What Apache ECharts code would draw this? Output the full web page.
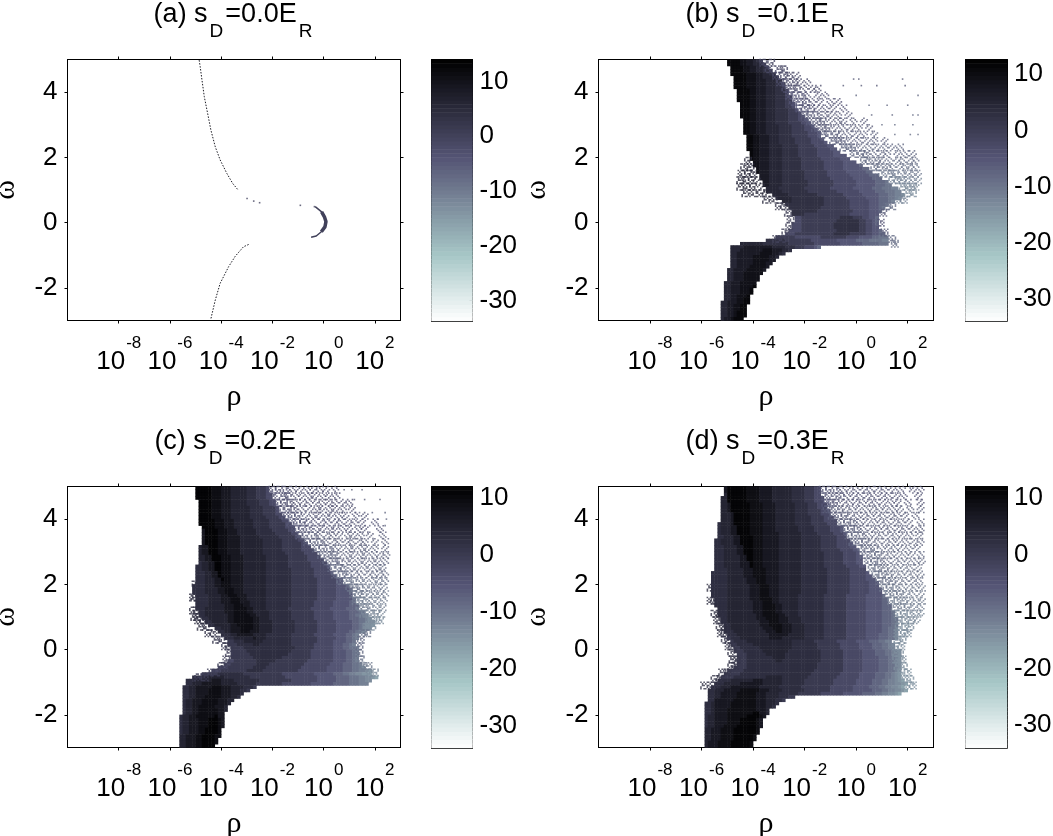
<!DOCTYPE html>
<html>
<head>
<meta charset="utf-8">
<title>s_D panels</title>
<script src="https://cdn.jsdelivr.net/npm/echarts@6/dist/echarts.min.js"></script>
<style>
  html, body { margin: 0; background: #fff; }
  #chart { width: 1053px; height: 836px; }
</style>
</head>
<body>
<div id="chart"></div>
<script>
// tick labels
const rhoTicks = [-8, -6, -4, -2, 0, 2]
const omegaTicks = [-2, 0, 2, 4]
const barTicks = [10, 0, -10, -20, -30]

// grid of the solid part: 1/8 decade by 0.1 in omega, rows from omega=5 downwards
const colCount = 104
const rowCount = 80
const rhoCols = Array.from({ length: colCount }, (_, i) => String(-10 + 0.0625 + i * 0.125))
const omegaRows = Array.from({ length: rowCount }, (_, i) => String(-3 + 0.05 + i * 0.1))

// letters used in the rows, value of each
const levels = { a: 11, b: 9, c: 7, d: 4.5, e: 2.5, f: 0, g: -3, h: -5.5, i: -8, j: -10, k: -12, l: -13.5, m: -15, n: -17 }

// each row: first column, then runs of level+length
const cellsB = [
  '40 a4 b2 c2 d1 e1 f1', '40 a4 b2 c2 d2 e1 f1', '41 a4 b2 c2 d2 e1 f1', '41 a4 b2 c2 d2 e2 f1', '41 a5 b3 c2 d2 e2',
  '42 a4 b3 c2 d3 e2', '42 a4 b3 c3 d3 e2', '42 a4 b3 c3 d3 e2 f1', '42 a4 b3 c3 d3 e2 f1', '43 a4 b2 c3 d3 e3 f1',
  '43 a4 b2 c3 d3 e3 f1', '43 a4 b2 c3 d3 e3 f2', '43 a4 b2 c3 d3 e3 f2', '44 a3 b2 c3 d3 e3 f2 g1', '44 a3 b2 c3 d3 e3 f2 g1',
  '44 a3 b2 c3 d3 e4 f2 g1', '44 a3 b2 c3 d3 e4 f3 g1', '44 a3 b2 c3 d3 e4 f3 g2', '45 a2 b2 c3 d3 e4 f3 g2 h1', '45 a2 b2 c3 d3 e4 f4 g2 h1',
  '45 a2 b2 c3 d4 e4 f4 g2 h1', '45 a2 b2 c3 d4 e4 f4 g3 h1', '45 a2 b2 c3 d4 e4 f5 g3 h1', '46 a2 b2 c3 d3 e4 f5 g3 h1', '46 a2 b2 c3 d3 e5 f5 g3 h1',
  '46 a2 b2 c3 d3 e5 f5 g4 h1', '46 a2 b2 c3 d4 e5 f5 g4 h2', '46 a2 b2 c3 d4 e5 f6 g4 h2', '47 a1 b2 c3 d4 e5 f6 g5 h2', '47 a1 b2 c3 d4 e5 f6 g5 h4',
  '47 a1 b2 c3 d4 e6 f6 g6 h3', '48 b2 c3 d4 e6 f7 g6 h4', '48 b2 c3 d4 e6 f7 g6 h5 i1', '49 b1 c3 d4 e6 f7 g6 h6 i2', '49 b1 c3 d4 e7 f7 g6 h6 i2',
  '50 c3 d4 e7 f7 g7 h6 i3', '50 c3 d4 e7 f8 g7 h6 i3', '51 c2 d4 e8 f8 g7 h6 i3 j1', '51 c2 d4 e8 f8 g7 h6 i3 j2', '52 d4 e8 f8 g7 h6 i3 j3 k2',
  '52 d5 e8 f9 g7 h5 i3 j3 k2', '54 d5 e9 f8 g6 h5 i3 j2 k2 l1', '55 d5 e10 f7 g6 h4 i3 j2 k1 l1', '57 d3 e10 f8 g6 h3 i3 j1 k1', '58 e12 f8 g6 h3 i2 j1',
  '59 e10 f9 g6 h3 i1 j1', '60 e8 f11 g5 h3 i1', '60 e4 f14 g6 h3', '61 g2 f12 e4 f3 g2 h2 i1', '61 g2 f11 e7 f2 g2 h1 i1',
  '60 g3 f10 e8 f2 g2 h1 i1', '60 g3 f10 e8 f2 g2 h2', '59 g4 f11 e7 f2 g2 h2 i1', '58 g3 f12 e5 f5 g2 h2 i2', '55 f6 g8 f8 g4 h4 i2 j3',
  '52 e6 f8 g8 h6 i4 j4 k2', '44 d7 e8 f8 g8 h7 i5 j3', '41 d4 c9 d4 e3 f3 g3 h1 i1', '41 d3 c7 b3 c3 d2 e1', '41 d2 c7 b4 c2 d1 e1',
  '41 d2 c5 b5 c2 d1', '41 d2 c5 b5 c2', '41 d2 c5 b4 c2', '41 d2 c4 b5 c1', '40 d2 c4 b5 c1',
  '40 d2 c3 b6', '40 d2 c3 b5', '40 d2 c3 b5', '39 d2 c3 b5', '39 d2 c3 b4 a1',
  '39 d2 c3 b3 a1', '39 d2 c3 b3 a1', '39 d2 c2 b3 a1', '39 d2 c2 b2 a2', '38 d2 c3 b2 a2',
  '38 d2 c2 b2 a2', '38 d2 c2 b2 a2', '38 d2 c2 b1 a3', '38 d2 c2 b1 a3', '38 d1 c2 b1 a3'
]
const cellsC = [
  '40 a5 b3 c3 d5 e3 f3 g1', '40 a5 b3 c3 d5 e3 f3 g1', '40 a5 b3 c3 d5 e3 f3 g2', '40 a5 b3 c3 d5 e3 f3 g2', '41 a4 b3 c3 d5 e4 f3 g2',
  '41 a4 b3 c3 d5 e4 f3 g2', '41 a4 b3 c3 d6 e4 f4 g1', '41 a4 b3 c3 d6 e4 f4 g1', '41 a4 b3 c3 d6 e4 f4 g2', '41 a4 b3 c3 d6 e5 f4 g2',
  '41 a5 b3 c3 d6 e5 f4 g2', '41 a5 b3 c3 d6 e5 f5 g2', '42 a4 b3 c3 d6 e5 f5 g3', '42 c1 a4 b3 c3 d6 e5 f5 g2', '42 c1 a4 b3 c3 d6 e6 f5 g2',
  '42 c1 a4 b3 c4 d6 e6 f5 g2', '42 c1 a4 b3 c4 d7 e6 f5 g2', '42 c1 a4 b3 c4 d7 e6 f6 g2', '41 d1 c2 a3 b3 c4 d7 e6 f6 g3', '41 d1 c2 a3 b3 c4 d7 e6 f6 g4',
  '41 d1 c2 a3 b3 c4 d7 e7 f6 g4', '41 d2 c2 a3 b3 c4 d7 e7 f6 g4', '41 d2 c2 a3 b3 c4 d7 e7 f6 g5', '41 e1 d2 c2 a2 b3 c4 d7 e7 f7 g5', '40 e2 d2 c2 a2 b3 c4 d7 e7 f7 g5 h1',
  '40 e2 d2 c2 a2 b3 c4 d7 e8 f7 g5', '40 e3 d2 c2 a1 b3 c4 d7 e8 f7 g5 h1', '40 e3 d2 c2 a1 b3 c4 d7 e8 f7 g6 h1', '40 e3 d3 c2 a1 b2 c4 d7 e8 f8 g6 h2', '40 e3 d3 c2 b3 c4 d7 e8 f8 g6 h2',
  '39 e4 d3 c2 b3 c4 d7 e8 f8 g6 h3 i1', '39 e4 d4 c2 b3 c3 d7 e8 f8 g6 h4 i1', '39 e4 d4 c2 b3 c3 d7 e8 f8 g6 h4 i1', '40 e4 d4 c2 b3 c3 d6 e8 f8 g6 h5', '40 e4 d4 c3 b3 c2 d6 e8 f8 g6 h5 i1',
  '40 e4 d4 c3 b3 c3 d5 e8 f7 g6 h5 i2', '40 e4 d5 c3 b3 c2 d5 e8 f7 g6 h5 i3', '40 e3 d6 c3 b4 c2 d4 e7 f7 g6 h5 i3 j1', '41 e2 d6 c3 b4 c2 d5 e7 f7 g6 h5 i3 j2', '41 e2 d7 c2 b5 c2 d4 e7 f7 g6 h5 i2 j2 k2',
  '42 e2 d6 c2 b6 c2 d3 e7 f7 g6 h5 i3 j2 k1 l1', '43 e2 d5 c2 b6 c2 d4 e7 f7 g6 h5 i2 j2 k1 l2', '44 e2 d5 c2 b5 c2 d4 e7 f7 g6 h5 i2 j1 k1 l2 m1', '46 e2 d3 c3 b4 c2 d4 e7 f7 g6 h5 i2 j1 k1 l2', '47 e2 d2 c3 b3 c3 d4 e7 f7 g6 h4 i2 j1 k1 l1',
  '48 e3 d2 c5 d4 e8 f7 g6 h4 i2 j1 k1', '49 e3 d6 c1 d3 e8 f8 g6 h3 i2 j1 k1', '50 f2 e3 d6 e9 f8 g5 h4 i2 j1', '50 f3 e5 d2 e10 f7 g6 h3 i2 j1 k1', '51 f4 e16 f6 g6 h3 i2 j2 k1',
  '51 f5 e14 f6 g7 h4 i2 j1 k1', '51 f6 e12 f7 g7 h4 i2 j1 k1', '51 f7 e9 f9 g7 h4 i2 j1 k1', '50 g2 f7 e6 f10 g8 h4 i2 j1 k1', '49 g2 f8 e4 f11 g8 h4 i3 j2 k1',
  '47 g3 f8 e4 f11 g8 h5 i3 j2 k1 l1', '45 g3 f8 e5 f11 g9 h5 i3 j2 k2 l1 m1', '42 f5 e8 f12 g10 h6 i3 j2 k2 l2 m2 n1', '39 e4 d6 e8 f11 g10 h6 i4 j3 k2 l2 m1 n1', '37 e3 d5 c3 d4 e8 f10 g8 h6 i4 j3 k2 l2',
  '37 e2 d3 c6 d5 e6 f8 g9 h7 i5 j3 k3', '36 e2 d2 c5 b3 c3 d4 e3 f1', '36 e2 d2 c4 b4 c3 d3 e2 f1', '36 e2 d2 c4 b4 c3 d3 e1', '36 e2 d2 c3 b5 c3 d2 e1',
  '36 e1 d2 c3 b5 c3 d2', '36 e1 d2 c3 b5 c3 d1', '36 e1 d2 c2 b5 c3 d1', '36 e1 d2 c2 b6 c2 d1', '36 e1 d2 c2 b6 c2',
  '35 e1 d2 c2 b6 a1 c2', '35 e1 d2 c3 b3 a3 b1 c1', '35 e1 d2 c3 b3 a3 b1 c1', '35 e1 d2 c3 b3 a3 b1 c1', '35 e1 d2 c3 b2 a4 b1',
  '35 e1 d2 c3 b2 a4 b1', '35 d2 c3 b2 a4 b2', '35 d2 c3 b2 a4 b1', '35 d2 c3 b2 a4 b1', '35 d2 c3 b2 a4'
]
const cellsD = [
  '39 c1 a6 b4 c4 d6 e4 f3 g2', '39 c1 a6 b4 c4 d6 e4 f3 g2', '39 d1 a6 b4 c4 d6 e4 f3 g2', '38 d2 a6 b4 c4 d6 e4 f3 g3', '38 d2 a6 b4 c4 d6 e4 f3 g3',
  '38 d2 c1 a6 b4 c4 d6 e4 f3 g3', '38 d2 c1 a6 b4 c4 d6 e4 f3 g3', '38 d2 c1 a6 b4 c4 d6 e4 f4 g3', '38 d3 c1 a5 b4 c4 d6 e4 f4 g3', '38 d3 c1 a5 b4 c4 d6 e5 f4 g3',
  '38 d3 c1 a5 b4 c4 d6 e5 f4 g4', '37 e1 d3 c1 a5 b4 c4 d6 e5 f5 g3', '37 e1 d3 c2 a4 b4 c4 d7 e5 f5 g3 h1', '37 e1 d3 c2 a4 b4 c4 d7 e5 f5 g3 h1', '37 e1 d3 c2 a4 b4 c5 d7 e5 f5 g3 h1',
  '37 e2 d3 c2 a4 b3 c5 d7 e6 f5 g3', '36 e2 d4 c2 a4 b3 c5 d7 e6 f5 g4', '36 e2 d4 c2 a4 b3 c5 d7 e6 f5 g4 h1', '36 e3 d4 c2 a3 b3 c5 d7 e6 f5 g4 h2', '36 e3 d4 c2 a3 b3 c5 d7 e6 f6 g4 h2',
  '36 e3 d4 c2 a3 b3 c5 d7 e7 f6 g4 h1', '36 e3 d5 c2 a2 b3 c5 d7 e7 f6 g4 h2', '36 e3 d5 c2 a2 b3 c5 d7 e7 f6 g4 h2', '36 e3 d5 c3 a1 b3 c5 d7 e7 f6 g4 h2', '36 e3 d5 c3 a1 b3 c5 d7 e7 f7 g4 h2',
  '36 e4 d5 c3 b4 c4 d7 e8 f7 g5', '35 e5 d5 c3 b4 c4 d7 e8 f7 g5 h1', '35 e5 d5 c3 b4 c4 d7 e8 f7 g5 h2', '35 e5 d6 c3 b3 c4 d7 e8 f7 g5 h3', '35 e5 d6 c3 b3 c4 d7 e8 f7 g6 h3',
  '35 e5 d7 c3 b3 c3 d7 e8 f7 g6 h3', '35 e5 d7 c3 b3 c3 d7 e8 f7 g6 h4', '35 e5 d7 c3 b3 c3 d7 e8 f7 g6 h4', '35 e5 d7 c3 b3 c3 d6 e8 f7 g6 h5 i1', '36 e4 d7 c3 b4 c2 d6 e8 f7 g6 h5 i2',
  '36 e4 d8 c3 b3 c2 d6 e8 f7 g6 h5 i2', '36 e4 d8 c3 b4 c2 d5 e8 f7 g6 h5 i3', '37 e3 d8 c3 b4 c2 d5 e8 f7 g6 h5 i3', '37 e3 d8 c3 b4 c2 d5 e8 f7 g6 h5 i3 j1', '37 e3 d9 c2 b5 c2 d4 e8 f7 g6 h5 i3 j1',
  '38 e2 d9 c3 b4 c3 d4 e7 f7 g6 h5 i3 j2', '38 e2 d10 c3 b3 c3 d4 e7 f7 g6 h5 i3 j2', '39 e2 d9 c3 b4 c3 d4 e6 f7 g6 h5 i3 j2', '39 e2 d10 c3 b3 c3 d4 e6 f7 g6 h5 i2 j2 k1', '39 e3 d10 c3 b2 c3 d4 e6 f7 g6 h5 i2 j2 k1',
  '40 e3 d10 c6 d5 e6 f7 g6 h4 i3 j2 k1', '40 f1 e3 d9 c4 d7 e6 f7 g6 h4 i3 j2 k1', '41 f1 e4 d14 e7 f7 g6 h4 i3 j2 k2', '41 f2 e5 d12 e8 f7 g6 h4 i3 j2 k2', '42 f2 e6 d10 e8 f7 g6 h4 i3 j2 k2',
  '42 f3 e6 d8 e10 f7 g6 h4 i3 j2 k2 l1', '43 f3 e6 d6 e11 f7 g6 h4 i3 j2 k2 l1', '43 f3 e8 d4 e11 f7 g6 h5 i3 j2 k1 l1', '43 f3 e9 d2 e12 f7 g6 h5 i3 j2 k1 l1', '43 f3 e22 f8 g6 h5 i3 j2 k1 l1',
  '42 f4 e22 f8 g6 h5 i3 j2 k1 l1', '40 f5 e22 f9 g6 h5 i3 j2 k1 l1', '39 f5 e22 f9 g6 h5 i3 j2 k1 l1 m1', '38 f4 e10 d5 e8 f9 g7 h5 i3 j2 k1 l1 m1', '37 e4 d7 c3 d6 e7 f9 g7 h5 i3 j2 k2 l1 m1 n1',
  '36 e3 d5 c7 d6 e7 f9 g7 h5 i3 j2 k2 l2 m1 n1', '35 e3 d3 c9 d6 e7 f9 g7 h5 i3 j2 k2 l2 m1 n1', '34 e2 d3 c5 b6 c3 d4 e7 f8 g7 h6 i3 j2 k2 l2 m1 n1', '34 e2 d2 c5 b6 c3 d4 e6 f7 g7 h6 i4 j2 k2 l2 m1 n1', '34 e2 d2 c5 b6 c3 d4 e3 f2',
  '34 e2 c6 b7 c3 d3 e2 f1', '33 e2 d1 c5 b8 c3 d3 e1', '33 e2 d1 c5 b8 c3 d2 e1', '33 e2 d1 c4 b9 c3 d1', '33 e2 d1 c4 b8 a2 c2 d1',
  '33 e1 d2 c4 b6 a4 b1 c1', '33 e1 d2 c4 b4 a5 b1 c1', '33 e1 d2 c4 b4 a5 b1 c1', '33 e1 d2 c3 b4 a6 b1 c1', '33 d2 c3 b4 a7 b1',
  '33 d2 c3 b4 a7 b1', '33 d2 c3 b4 a6 b1', '33 d2 c3 b4 a6 b1', '33 d1 c3 b4 a6 b1', '33 d1 c3 b4 a6 b1'
]

// speckled fringe, each row: omega, value, then the log10(rho) of its specks
const specksB = [
  [4.9, -2, -3.6, -3.3], [4.7, -3, -3.4, -3.0, -2.8], [4.5, -3, -3.1, -2.8, -2.6, -2.3], [4.3, -4, -2.95, -2.7, -2.4, -2.2, -1.9],
  [4.1, -4, -2.75, -2.5, -2.3, -2, -1.7, -1.5], [3.9, -5, -2.6, -2.4, -2.1, -1.9, -1.5, -1.2], [3.7, -5, -2.45, -2.2, -1.95, -1.7, -1.4, -1, -0.7],
  [3.5, -5, -2.2, -2, -1.75, -1.5, -1.2, -0.9, -0.5], [3.3, -6, -2, -1.8, -1.5, -1.2, -1, -0.7, -0.3], [3.1, -6, -1.8, -1.5, -1.3, -1, -0.7, -0.5, -0.1, 0.3],
  [2.9, -6, -1.6, -1.3, -1.1, -0.8, -0.5, -0.2, 0.1, 0.5], [2.7, -7, -1.3, -1.1, -0.8, -0.6, -0.3, 0, 0.3, 0.7], [2.5, -7, -0.9, -0.7, -0.5, -0.2, 0.1, 0.4, 0.7, 1.1],
  [2.3, -8, -0.5, -0.3, -0.1, 0.2, 0.5, 0.8, 1.1, 1.4, 1.7], [2.1, -8, -0.1, 0.2, 0.4, 0.7, 1, 1.2, 1.6, 1.9, 2.2], [1.9, -9, 0.3, 0.5, 0.8, 1, 1.3, 1.6, 1.8, 2.1, 2.3],
  [1.7, -10, 0.7, 0.9, 1.2, 1.4, 1.7, 1.9, 2.1, 2.3], [1.5, -11, 1.0, 1.3, 1.5, 1.8, 2, 2.2, 2.4], [1.3, -12, 1.4, 1.6, 1.8, 2.0, 2.2, 2.4],
  [1.1, -13, 1.8, 2, 2.2, 2.3], [0.9, -14, 2, 2.2],
  [1.9, 3, -4.2], [1.7, 3, -4.35, -4.1], [1.5, 3, -4.45, -4.2, -4], [1.3, 3, -4.5, -4.3, -4.05, -3.85], [1.1, 3, -4.5, -4.25, -4, -3.7], [0.9, 3, -4.3, -4, -3.7, -3.5],
  [0.7, 2, -3.5, -3.2], [0.5, 1, -3, -2.8], [0.3, 0, -2.65], [0.1, -1, -2.55], [-0.1, -1, -2.6], [-0.3, -1, -2.75], [-0.5, -1, -3.1, -2.9],
  [0.7, -12, 1.65, 1.85], [0.5, -9, 1.2, 1.4], [0.3, -6, 1.05], [0, -5, 0.95], [-0.3, -6, 1.1], [-0.5, -8, 1.4], [-0.65, -9, 1.5]
]
const specksC = [
  [4.9, -5, -2, -1.75, -1.45, -1.2, -0.95, -0.65, -0.4, -0.15, 0.1, 0.45], [4.7, -5, -1.95, -1.6, -1.4, -1.1, -0.85, -0.55, -0.35, -0.05, 0.2, 0.5],
  [4.5, -5, -1.8, -1.55, -1.3, -1.05, -0.8, -0.55, -0.3, -0.05, 0.2, 0.45, 0.75, 1.0], [4.3, -5, -1.7, -1.4, -1.15, -0.85, -0.55, -0.25, -0.05, 0.25, 0.45, 0.75, 1.1],
  [4.1, -6, -1.5, -1.25, -1, -0.7, -0.4, -0.2, 0.1, 0.3, 0.6, 0.85, 1.25, 1.6], [3.9, -6, -1.3, -1.05, -0.8, -0.6, -0.35, -0.05, 0.15, 0.45, 0.65, 0.95, 1.2, 1.5, 2.0],
  [3.7, -6, -1.1, -0.85, -0.55, -0.25, -0.05, 0.25, 0.45, 0.75, 1, 1.35, 1.6, 2.2], [3.5, -7, -0.95, -0.7, -0.35, -0.15, 0.15, 0.35, 0.6, 0.95, 1.15, 1.45, 1.8, 2.3],
  [3.3, -7, -0.65, -0.4, -0.1, 0.1, 0.4, 0.6, 0.9, 1.1, 1.4, 1.6, 2, 2.4], [3.1, -8, -0.3, -0.05, 0.25, 0.45, 0.7, 1, 1.2, 1.5, 1.7, 2, 2.4],
  [2.9, -8, -0.1, 0.2, 0.4, 0.65, 0.95, 1.15, 1.45, 1.65, 1.95, 2.2, 2.45], [2.7, -8, 0.1, 0.4, 0.6, 0.9, 1.1, 1.4, 1.6, 1.9, 2.1, 2.4],
  [2.5, -9, 0.3, 0.6, 0.8, 1.1, 1.3, 1.6, 1.8, 2.1, 2.3], [2.3, -9, 0.45, 0.75, 0.95, 1.25, 1.45, 1.75, 1.95, 2.2, 2.4],
  [2.1, -10, 0.65, 0.95, 1.15, 1.45, 1.65, 1.95, 2.15, 2.4], [1.9, -10, 1, 1.2, 1.4, 1.65, 1.85, 2.1, 2.35], [1.7, -11, 1.15, 1.35, 1.55, 1.8, 2, 2.2, 2.4],
  [1.5, -12, 1.25, 1.45, 1.65, 1.9, 2.1, 2.35], [1.3, -12, 1.4, 1.6, 1.8, 2.1, 2.3], [1.1, -13, 1.55, 1.85, 2.05, 2.25], [0.9, -14, 1.8, 2.05, 2.2], [0.7, -14, 1.7, 1.9],
  [0.5, -10, 1.7, 1.55], [0.3, -9, 1.45], [0.1, -9, 1.4], [-0.1, -9, 1.4], [-0.3, -10, 1.45], [-0.5, -11, 1.55, 1.75], [-0.7, -13, 1.8, 2],
  [2, 2, -5.0], [1.6, 2, -5.05, -5.1], [1.2, 2, -5.1, -4.95], [1, 2, -5.05, -4.95], [0.9, 2, -4.9, -4.7], [0.7, 2, -4.8, -4.6], [0.5, 1, -4.5, -4.3], [0.3, 0, -4.2, -4],
  [0.1, 0, -3.85, -3.7], [-0.1, -1, -3.7], [-0.3, -1, -3.8], [-0.5, -1, -4, -3.85], [-0.7, -1, -4.4, -4.2], [-0.85, -1, -4.9, -4.65]
]
const specksD = [
  [4.9, -6, -1.3, -1.05, -0.75, -0.5, -0.25, 0, 0.3, 0.55, 0.85, 1.1, 1.4, 1.7, 2.2, 2.5], [4.7, -6, -1.2, -0.9, -0.6, -0.35, -0.1, 0.15, 0.45, 0.7, 1, 1.25, 1.55, 1.85, 2.4],
  [4.5, -6, -1.2, -1, -0.8, -0.5, -0.25, 0, 0.25, 0.5, 0.75, 1.05, 1.35, 1.6, 2, 2.5], [4.3, -7, -1.15, -0.95, -0.65, -0.4, -0.15, 0.1, 0.4, 0.65, 0.9, 1.15, 1.45, 1.7, 2.1, 2.5],
  [4.1, -7, -0.95, -0.7, -0.45, -0.2, 0.05, 0.3, 0.55, 0.8, 1.05, 1.35, 1.6, 1.9, 2.3], [3.9, -7, -0.6, -0.35, -0.1, 0.15, 0.4, 0.7, 0.95, 1.2, 1.5, 1.75, 2.05, 2.5],
  [3.7, -7, -0.45, -0.2, 0.05, 0.3, 0.6, 0.85, 1.1, 1.35, 1.65, 1.9, 2.2, 2.5], [3.5, -8, -0.3, -0.05, 0.25, 0.5, 0.75, 1, 1.3, 1.55, 1.8, 2.1, 2.45],
  [3.3, -8, -0.15, 0.1, 0.35, 0.6, 0.85, 1.15, 1.4, 1.65, 1.95, 2.25, 2.5], [3.1, -9, 0.2, 0.45, 0.7, 1, 1.25, 1.5, 1.75, 2.05, 2.35], [2.9, -9, 0.3, 0.6, 0.85, 1.1, 1.35, 1.6, 1.9, 2.15, 2.5],
  [2.7, -9, 0.45, 0.7, 0.95, 1.2, 1.5, 1.75, 2, 2.3, 2.55], [2.5, -10, 0.6, 0.85, 1.1, 1.35, 1.6, 1.85, 2.1, 2.4], [2.3, -10, 0.75, 1, 1.25, 1.5, 1.75, 2, 2.25, 2.5],
  [2.1, -10, 0.9, 1.15, 1.4, 1.65, 1.9, 2.2, 2.45], [1.9, -11, 1.05, 1.3, 1.55, 1.8, 2.05, 2.3, 2.55], [1.7, -11, 1.2, 1.45, 1.7, 1.95, 2.2, 2.5], [1.5, -12, 1.35, 1.6, 1.85, 2.1, 2.35, 2.55],
  [1.3, -12, 1.5, 1.75, 2, 2.25, 2.5], [1.1, -13, 1.6, 1.85, 2.1, 2.35, 2.5], [0.9, -13, 1.65, 1.9, 2.15, 2.35], [0.7, -14, 1.65, 1.9, 2.1], [0.5, -14, 1.6, 1.85, 2.0],
  [0.3, -14, 1.6, 1.8], [0.1, -14, 1.55, 1.75], [-0.1, -14, 1.55, 1.7], [-0.3, -14, 1.55, 1.8], [-0.5, -14, 1.6, 1.85], [-0.7, -15, 1.75, 2], [-0.9, -15, 1.85, 2.1], [-1.1, -15, 2, 2.2],
  [1.9, 2, -5.65], [1.5, 2, -5.65, -5.5], [1.1, 2, -5.5, -5.3], [0.9, 2, -5.4, -5.2], [0.7, 2, -5.3, -5.1], [0.5, 2, -5.25, -5.1], [0.3, 1, -5.1, -4.95], [0.1, 1, -4.95, -4.8], [-0.1, 1, -4.85],
  [-0.3, 1, -4.8, -4.65], [-0.5, 1, -4.85, -4.7], [-0.7, 1, -5.2, -5], [-0.9, 1, -5.5, -5.3], [-1.1, 1, -5.9, -5.6]
]

// lone points, same layout as the specks
const dotsA = [[0.74, -1, -2.99], [0.66, -1, -2.73], [0.61, -1, -2.5], [0.53, -1, -0.91], [0.49, -1, -0.36]]
const dotsB = [
  [4.4, -6, -0.1, 0.1, 1.8], [4.2, -6, -0.5, 0.2, 0.8, 1.9], [3.9, -8, 0.0, 2.4], [3.6, -8, 0.5, 1.2, 2], [3.3, -8, 0.6, 1.4, 2.2, 2.4], [3, -9, 1, 1.5, 2.2], [2.7, -9, 1.5, 2.1, 2.4]
]
const dotsC = [[4.9, -7, 0.8, 1.1, 1.5], [4.6, -7, 1.2, 1.6, 2.2], [4.2, -8, 1.4, 1.9, 2.4], [3.8, -8, 1.8, 2.4], [4, -8, 2.1, 2.45]]
const dotsD = [[4.95, -7, 1.9, 2.1], [4.2, -8, 1.9, 2.35], [3.6, -8, 2.3, 2.55]]

// panel (a): the thin branches and the crescent, [log10(rho), omega]
const upperCurveA = [[-4.86, 4.98], [-4.82, 4.78], [-4.75, 4.37], [-4.66, 3.86], [-4.53, 3.35], [-4.4, 2.83], [-4.23, 2.32], [-4.04, 1.92], [-3.78, 1.51], [-3.55, 1.2], [-3.36, 1.02]]
const lowerCurveA = [[-2.93, -0.67], [-3.13, -0.74], [-3.45, -1.03], [-3.71, -1.35], [-4.04, -1.86], [-4.23, -2.37], [-4.4, -2.94]]
const crescentEdgeA = [[-0.33, 0.49], [-0.29, 0.46], [-0.08, 0.33], [0.03, 0.18], [0.09, 0.03], [0.05, -0.13], [-0.09, -0.28], [-0.29, -0.41], [-0.49, -0.45]]
const crescentCoreA = [[-0.08, 0.33], [0.03, 0.18], [0.09, 0.03], [0.05, -0.13], [-0.09, -0.28]]

const panels = [
  { tag: '(a) s', sd: '=0.0E', left: 67.5, top: 59.5, w: 333, h: 261, barLeft: 431.5, barW: 41, vMin: -33.7, vMax: 14, cells: [], specks: [], dots: dotsA },
  { tag: '(b) s', sd: '=0.1E', left: 598.5, top: 59.5, w: 335, h: 261, barLeft: 965.5, barW: 41.5, vMin: -33.9, vMax: 12.6, cells: cellsB, specks: specksB, dots: dotsB },
  { tag: '(c) s', sd: '=0.2E', left: 67.5, top: 486.5, w: 333, h: 261, barLeft: 431.5, barW: 41, vMin: -33.8, vMax: 11.9, cells: cellsC, specks: specksC, dots: dotsC },
  { tag: '(d) s', sd: '=0.3E', left: 598.5, top: 486.5, w: 335, h: 261, barLeft: 965.5, barW: 41.5, vMin: -34, vMax: 12, cells: cellsD, specks: specksD, dots: dotsD }
]

const boneColors = ['#ffffff', '#d3e3e3', '#a7c7c7', '#8ba1ab', '#707a8f', '#545474', '#38384d', '#1c1c27', '#000000']
const barSteps = 64
const fontSans = 'Liberation Sans'
const fontSerif = 'Liberation Serif'

// one speck mark stands for a small cluster of the reference's dots
const stamp = (rows) => 'path://' + rows.flatMap((row, y) => [...row].flatMap((ch, x) => (ch === 'X' ? [`M${x * 2} ${y * 2}h2v2h-2z`] : []))).join('')
const denseSpeck = stamp(['X.XX.', '.X..X', 'X.X.X', '.XX..', 'X..XX'])
const thinSpeck = stamp(['X..X.', '..X..', '.X..X', 'X..X.', '..X..'])

const parseCells = (rows) => {
  const out = []
  rows.forEach((row, r) => {
    const parts = row.split(' ')
    let c = Number(parts[0])
    parts.slice(1).forEach((run) => {
      const n = Number(run.slice(1))
      for (let i = 0; i < n; i++) out.push([c++, rowCount - 1 - r, levels[run[0]]])
    })
  })
  return out
}
const parsePoints = (rows) => rows.flatMap(([omega, v, ...rhos]) => rhos.map((rho, i) => [rho, omega, v, i]))

const option = { animation: false, title: [], grid: [], xAxis: [], yAxis: [], series: [], visualMap: [] }

const hiddenCategory = (gridIndex, data) => ({ type: 'category', gridIndex, data, show: false })
const tickStyle = { show: true, length: 3, lineStyle: { color: '#000', width: 1 } }
const lineStyle = { show: true, onZero: false, lineStyle: { color: '#000', width: 1 } }

panels.forEach((p, n) => {
  const g = option.grid.length
  // outerBoundsMode none: echarts 6 would otherwise shrink the grid to keep the axis names on the canvas
  const rect = { left: p.left, top: p.top, width: p.w, height: p.h, outerBoundsMode: 'none' }
  const barRect = { left: p.barLeft, top: p.top, width: p.barW, height: p.h + 0.5, outerBoundsMode: 'none' }
  option.grid.push(rect, { ...rect }, barRect, { ...barRect })

  // title with subscripts
  option.title.push({
    text: `{m|${p.tag}}{s|D}{m|${p.sd}}{s|R}`,
    left: p.left + p.w / 2 - 5,
    top: p.top - 63,
    textAlign: 'center',
    textStyle: {
      rich: {
        m: { fontFamily: fontSans, fontSize: 27, fontWeight: 'normal', color: '#000', verticalAlign: 'top', lineHeight: 40 },
        s: { fontFamily: fontSans, fontSize: 19, fontWeight: 'normal', color: '#000', verticalAlign: 'bottom', lineHeight: 40, padding: [0, 2, 0, 2] }
      }
    }
  })

  // cell grid
  const xCat = option.xAxis.length
  const yCat = option.yAxis.length
  option.xAxis.push(hiddenCategory(g, rhoCols))
  option.yAxis.push(hiddenCategory(g, omegaRows))

  // drawn axes on the same rectangle
  const xVal = option.xAxis.length
  const yVal = option.yAxis.length
  const xBase = { type: 'value', gridIndex: g + 1, min: -10, max: 3, splitLine: { show: false }, axisLine: lineStyle }
  const yBase = { type: 'value', gridIndex: g + 1, min: -3, max: 5, splitLine: { show: false }, axisLine: lineStyle }
  option.xAxis.push(
    {
      ...xBase,
      position: 'bottom',
      name: 'ρ',
      nameLocation: 'middle',
      nameGap: 62,
      nameTextStyle: { fontFamily: fontSerif, fontSize: 30, color: '#000' },
      axisTick: { ...tickStyle, customValues: rhoTicks },
      axisLabel: {
        customValues: rhoTicks,
        margin: 14,
        formatter: (v) => `{b|10}{e|${v}}`,
        rich: {
          b: { fontFamily: fontSans, fontSize: 26, color: '#000', verticalAlign: 'bottom', lineHeight: 40 },
          e: { fontFamily: fontSans, fontSize: 17, color: '#000', verticalAlign: 'top', lineHeight: 40, padding: [0, 0, 0, 1] }
        }
      }
    },
    { ...xBase, position: 'top', axisTick: { ...tickStyle, customValues: rhoTicks }, axisLabel: { show: false } }
  )
  option.yAxis.push(
    {
      ...yBase,
      position: 'left',
      name: 'ω',
      nameLocation: 'middle',
      nameGap: 46,
      nameRotate: 90,
      nameTextStyle: { fontFamily: fontSerif, fontSize: 30, color: '#000' },
      axisTick: { ...tickStyle, customValues: omegaTicks },
      axisLabel: { customValues: omegaTicks, margin: 10, fontFamily: fontSans, fontSize: 26, color: '#000' }
    },
    { ...yBase, position: 'right', axisTick: { ...tickStyle, customValues: omegaTicks }, axisLabel: { show: false } }
  )

  // colour bar
  const barLevels = Array.from({ length: barSteps }, (_, k) => p.vMin + ((k + 0.5) * (p.vMax - p.vMin)) / barSteps)
  const xBarCat = option.xAxis.length
  const yBarCat = option.yAxis.length
  option.xAxis.push(hiddenCategory(g + 2, ['bar']))
  option.yAxis.push(hiddenCategory(g + 2, barLevels.map(String)))
  const xBarVal = { type: 'value', gridIndex: g + 3, min: 0, max: 1, splitLine: { show: false }, axisLine: lineStyle, axisTick: { show: false }, axisLabel: { show: false } }
  const yBarVal = { type: 'value', gridIndex: g + 3, min: p.vMin, max: p.vMax, splitLine: { show: false }, axisLine: lineStyle }
  option.xAxis.push({ ...xBarVal, position: 'bottom' }, { ...xBarVal, position: 'top' })
  option.yAxis.push(
    {
      ...yBarVal,
      position: 'right',
      axisTick: { show: true, inside: true, length: 3, lineStyle: { color: '#000', width: 1 }, customValues: barTicks },
      axisLabel: { customValues: barTicks, margin: 7, fontFamily: fontSans, fontSize: 26, color: '#000' }
    },
    { ...yBarVal, position: 'left', axisTick: { show: false }, axisLabel: { show: false } }
  )

  const s0 = option.series.length
  option.series.push(
    {
      type: 'heatmap',
      xAxisIndex: xCat,
      yAxisIndex: yCat,
      data: parseCells(p.cells),
      progressive: 0,
      silent: true,
      z: 1
    },
    {
      type: 'scatter',
      xAxisIndex: xVal,
      yAxisIndex: yVal,
      data: parsePoints(p.specks),
      // the first specks of a row sit next to the solid part, where the dots are thickest
      symbol: (val) => (val[3] < 3 ? denseSpeck : thinSpeck),
      symbolSize: 8,
      symbolRotate: (v, params) => (params.dataIndex % 4) * 90,
      silent: true,
      z: 2
    },
    {
      type: 'scatter',
      xAxisIndex: xVal,
      yAxisIndex: yVal,
      data: parsePoints(p.dots),
      symbol: 'rect',
      symbolSize: 1.6,
      silent: true,
      z: 2
    },
    {
      type: 'heatmap',
      xAxisIndex: xBarCat,
      yAxisIndex: yBarCat,
      data: barLevels.map((v, k) => [0, k, v]),
      silent: true,
      z: 1
    }
  )
  option.visualMap.push({
    show: false,
    type: 'continuous',
    min: p.vMin,
    max: p.vMax,
    dimension: 2,
    seriesIndex: [s0, s0 + 1, s0 + 2, s0 + 3],
    inRange: { color: boneColors }
  })

  if (n === 0) {
    const curve = (data, width, color, dash) => ({
      type: 'line',
      xAxisIndex: xVal,
      yAxisIndex: yVal,
      data,
      showSymbol: false,
      silent: true,
      z: 3,
      lineStyle: { color, width, type: dash }
    })
    option.series.push(
      curve(upperCurveA, 1, '#1a1a22', [1.5, 1.5]),
      curve(lowerCurveA, 1, '#1a1a22', [1.5, 1.5]),
      curve(crescentEdgeA, 1.5, '#41415a', 'solid'),
      curve(crescentCoreA, 3.5, '#41415a', 'solid')
    )
  }
})

const chart = echarts.init(document.getElementById('chart'), null, { renderer: 'canvas' })
chart.setOption(option)
</script>
</body>
</html>
